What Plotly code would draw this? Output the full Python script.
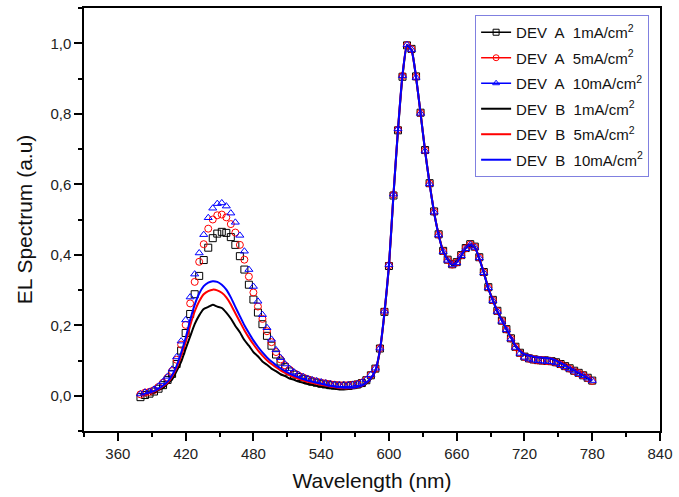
import plotly.graph_objects as go

# wavelength grid (nm)
wavelength = list(range(380, 781, 4))

# DEV A, markers
dev_a_1 = [-0.004, 0.002, 0.006, 0.012, 0.020, 0.030, 0.045, 0.062, 0.090, 0.128,
           0.178, 0.232, 0.288, 0.340, 0.385, 0.420, 0.447, 0.460, 0.465, 0.462,
           0.450, 0.428, 0.396, 0.358, 0.315, 0.273, 0.236, 0.203, 0.170, 0.142,
           0.117, 0.097, 0.081, 0.069, 0.060, 0.053, 0.048, 0.044, 0.040, 0.037,
           0.034, 0.032, 0.030, 0.029, 0.028, 0.028, 0.028, 0.030, 0.032, 0.036,
           0.044, 0.058, 0.077, 0.134, 0.238,
           0.368, 0.568, 0.753, 0.905, 0.994, 0.984, 0.906, 0.803, 0.697, 0.603,
           0.523, 0.458, 0.411, 0.386, 0.373, 0.379, 0.399, 0.419, 0.430, 0.423,
           0.393, 0.351, 0.308, 0.272, 0.241, 0.213, 0.189, 0.163, 0.139, 0.122,
           0.111, 0.106, 0.103, 0.101, 0.100, 0.099, 0.098, 0.095, 0.090, 0.084,
           0.078, 0.071, 0.065, 0.058, 0.051, 0.043]
dev_a_5 = [0.004, 0.009, 0.011, 0.016, 0.025, 0.037, 0.051, 0.070, 0.102, 0.145,
           0.201, 0.262, 0.323, 0.380, 0.430, 0.474, 0.500, 0.512, 0.514, 0.506,
           0.487, 0.463, 0.428, 0.386, 0.338, 0.293, 0.253, 0.218, 0.183, 0.152,
           0.124, 0.103, 0.086, 0.074, 0.064, 0.057, 0.052, 0.047, 0.043, 0.040,
           0.037, 0.035, 0.033, 0.031, 0.030, 0.030, 0.030, 0.031, 0.033, 0.037,
           0.045, 0.059, 0.077, 0.135, 0.239,
           0.370, 0.570, 0.755, 0.907, 0.995, 0.983, 0.905, 0.802, 0.696, 0.602,
           0.522, 0.457, 0.410, 0.385, 0.372, 0.378, 0.398, 0.418, 0.429, 0.422,
           0.392, 0.350, 0.307, 0.271, 0.240, 0.212, 0.188, 0.162, 0.138, 0.121,
           0.110, 0.105, 0.102, 0.100, 0.099, 0.098, 0.097, 0.094, 0.089, 0.083,
           0.077, 0.070, 0.064, 0.058, 0.050, 0.042]
dev_a_10 = [0.005, 0.010, 0.012, 0.018, 0.027, 0.040, 0.055, 0.075, 0.110, 0.155,
            0.215, 0.280, 0.345, 0.405, 0.457, 0.505, 0.532, 0.545, 0.547, 0.538,
            0.518, 0.492, 0.455, 0.410, 0.358, 0.310, 0.268, 0.230, 0.193, 0.160,
            0.130, 0.108, 0.090, 0.077, 0.067, 0.060, 0.054, 0.049, 0.045, 0.042,
            0.039, 0.036, 0.034, 0.032, 0.031, 0.031, 0.031, 0.032, 0.034, 0.038,
            0.046, 0.060, 0.078, 0.135, 0.240,
            0.372, 0.572, 0.757, 0.908, 0.996, 0.982, 0.903, 0.801, 0.694, 0.601,
            0.521, 0.456, 0.409, 0.384, 0.371, 0.377, 0.397, 0.417, 0.428, 0.421,
            0.391, 0.349, 0.306, 0.270, 0.239, 0.211, 0.187, 0.161, 0.137, 0.120,
            0.109, 0.104, 0.101, 0.099, 0.098, 0.097, 0.096, 0.093, 0.088, 0.082,
            0.076, 0.070, 0.063, 0.057, 0.050, 0.043]

# DEV B, lines
dev_b_1 = [0.006, 0.004, 0.010, 0.009, 0.017, 0.022, 0.035, 0.046, 0.070, 0.096,
           0.133, 0.168, 0.203, 0.228, 0.246, 0.252, 0.258, 0.253, 0.249, 0.236,
           0.219, 0.198, 0.180, 0.158, 0.142, 0.124, 0.112, 0.097, 0.088, 0.077,
           0.070, 0.061, 0.056, 0.049, 0.045, 0.040, 0.037, 0.033, 0.031, 0.028,
           0.026, 0.024, 0.021, 0.020, 0.018, 0.018, 0.019, 0.021, 0.023, 0.027,
           0.035, 0.048, 0.070, 0.128, 0.233,
           0.366, 0.568, 0.752, 0.906, 0.993, 0.982, 0.902, 0.803, 0.693, 0.603,
           0.518, 0.458, 0.408, 0.388, 0.370, 0.381, 0.396, 0.421, 0.427, 0.423,
           0.388, 0.351, 0.303, 0.273, 0.238, 0.216, 0.188, 0.167, 0.140, 0.129,
           0.117, 0.116, 0.110, 0.111, 0.107, 0.109, 0.104, 0.102, 0.092, 0.088,
           0.078, 0.074, 0.064, 0.060, 0.050, 0.045]
dev_b_5 = [0.002, 0.005, 0.008, 0.012, 0.018, 0.027, 0.037, 0.054, 0.079, 0.113,
           0.152, 0.199, 0.239, 0.268, 0.288, 0.297, 0.301, 0.299, 0.292, 0.279,
           0.259, 0.234, 0.210, 0.186, 0.165, 0.146, 0.129, 0.114, 0.101, 0.090,
           0.081, 0.072, 0.065, 0.058, 0.053, 0.048, 0.044, 0.040, 0.037, 0.034,
           0.031, 0.029, 0.026, 0.024, 0.022, 0.021, 0.021, 0.022, 0.024, 0.028,
           0.036, 0.049, 0.071, 0.129, 0.234,
           0.369, 0.571, 0.756, 0.909, 0.996, 0.981, 0.904, 0.801, 0.696, 0.601,
           0.521, 0.456, 0.411, 0.386, 0.373, 0.379, 0.399, 0.419, 0.430, 0.421,
           0.391, 0.349, 0.306, 0.271, 0.241, 0.214, 0.191, 0.166, 0.143, 0.128,
           0.119, 0.115, 0.112, 0.110, 0.109, 0.108, 0.106, 0.101, 0.094, 0.087,
           0.080, 0.073, 0.066, 0.059, 0.052, 0.044]
dev_b_10 = [0.003, 0.006, 0.009, 0.013, 0.020, 0.029, 0.040, 0.058, 0.085, 0.122,
            0.164, 0.215, 0.258, 0.290, 0.311, 0.321, 0.325, 0.323, 0.315, 0.301,
            0.279, 0.252, 0.226, 0.200, 0.178, 0.157, 0.139, 0.123, 0.109, 0.097,
            0.087, 0.078, 0.070, 0.063, 0.057, 0.052, 0.047, 0.043, 0.040, 0.037,
            0.034, 0.031, 0.028, 0.026, 0.024, 0.023, 0.023, 0.023, 0.025, 0.029,
            0.037, 0.050, 0.072, 0.130, 0.235,
            0.370, 0.570, 0.755, 0.910, 0.995, 0.980, 0.905, 0.800, 0.695, 0.600,
            0.520, 0.455, 0.410, 0.385, 0.372, 0.378, 0.398, 0.418, 0.429, 0.420,
            0.390, 0.348, 0.305, 0.270, 0.240, 0.213, 0.190, 0.165, 0.142, 0.127,
            0.118, 0.114, 0.111, 0.109, 0.108, 0.107, 0.105, 0.100, 0.093, 0.086,
            0.079, 0.072, 0.065, 0.058, 0.051, 0.043]

for s in (dev_a_1, dev_a_5, dev_a_10, dev_b_1, dev_b_5, dev_b_10):
    assert len(s) == len(wavelength), len(s)

font = "Liberation Sans, Arial, sans-serif"
sp = "\u00a0"
unit = "mA/cm<sup>2</sup>"

fig = go.Figure()

# DEV A: open markers only in the plot
markers = [(dev_a_1, "black", "square-open", "DEV" + sp + " A" + sp + " 1" + unit),
           (dev_a_5, "red", "circle-open", "DEV" + sp + " A" + sp + " 5" + unit),
           (dev_a_10, "blue", "triangle-up-open", "DEV" + sp + " A" + sp + " 10" + unit)]
for y, c, sym, name in markers:
    fig.add_trace(go.Scatter(x=wavelength, y=y, mode="markers", showlegend=False,
                             marker=dict(symbol=sym, size=7, color=c, line=dict(width=1, color=c))))
# legend entries for DEV A (line + marker)
for i, (y, c, sym, name) in enumerate(markers):
    fig.add_trace(go.Scatter(x=[None], y=[None], mode="lines+markers", name=name,
                             legendgroup="a%d" % i,
                             line=dict(color=c, width=1.5),
                             marker=dict(symbol=sym, size=6, color=c, line=dict(width=1, color=c))))

# DEV B: lines
for i, (y, c, name) in enumerate([(dev_b_1, "black", "DEV" + sp + " B" + sp + " 1" + unit),
                                  (dev_b_5, "red", "DEV" + sp + " B" + sp + " 5" + unit),
                                  (dev_b_10, "blue", "DEV" + sp + " B" + sp + " 10" + unit)]):
    fig.add_trace(go.Scatter(x=wavelength, y=y, mode="lines", name=name,
                             legendgroup="b%d" % i,
                             line=dict(color=c, width=2, shape="spline", smoothing=0.5)))

axis = dict(showline=True, linecolor="black", linewidth=1.5, mirror=True,
            ticks="outside", ticklen=8, tickwidth=1.5, tickcolor="black",
            showgrid=False, zeroline=False,
            tickfont=dict(family=font, size=15, color="#222"))

fig.update_layout(
    width=679, height=497,
    margin=dict(l=84, r=16, t=6, b=66),
    paper_bgcolor="white", plot_bgcolor="white",
    separators=",.",
    font=dict(family=font, color="#111"),
    legend=dict(x=0.679, y=0.9835, xanchor="left", yanchor="top",
                bgcolor="white", bordercolor="#8080e0", borderwidth=1,
                font=dict(family=font, size=15, color="#111"),
                tracegroupgap=3),
    xaxis=dict(axis, range=[330, 840], tick0=360, dtick=60,
               minor=dict(ticks="outside", ticklen=4, tickwidth=1.5, tickcolor="black", dtick=30, tick0=330),
               title=dict(text="Wavelength (nm)", font=dict(family=font, size=21), standoff=13)),
    yaxis=dict(axis, range=[-0.1, 1.1], tick0=0, dtick=0.2, tickformat=".1f",
               minor=dict(ticks="outside", ticklen=4, tickwidth=1.5, tickcolor="black", dtick=0.1, tick0=0),
               title=dict(text="EL Spectrum (a.u)", font=dict(family=font, size=21), standoff=12)),
)

fig.write_html("out.html", config={"displayModeBar": False},
               post_script="document.body.style.margin='0';")
